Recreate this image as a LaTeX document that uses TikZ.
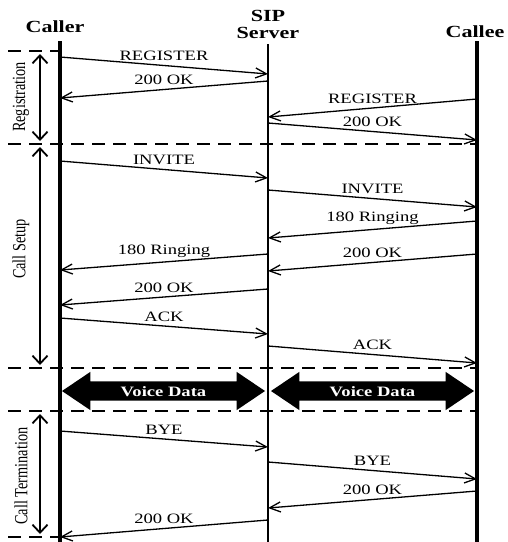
\documentclass[tikz,border=0pt]{standalone}
\usepackage{fontspec}
\usepackage{graphicx}
\setmainfont{Liberation Serif}
\newfontfamily\wideserif[FakeStretch=1.3]{Liberation Serif}
\usetikzlibrary{arrows.meta, shapes.arrows, calc}

\begin{document}
\begin{tikzpicture}[
  x=1pt, y=-1pt,
  actor/.style={font=\wideserif\bfseries\fontsize{17}{17}\selectfont, align=center, inner sep=0pt},
  life/.style={line width=3.5pt},
  msg/.style={-{Straight Barb[length=11pt, width=10pt]}, line width=1.3pt},
  lbl/.style={font=\wideserif\fontsize{14.3}{16}\selectfont, anchor=south, yshift=4pt, inner sep=0pt},
  phase/.style={{Straight Barb[length=8pt, width=15pt]}-{Straight Barb[length=8pt, width=15pt]}, line width=1.8pt},
  phaselbl/.style={rotate=90, font=\fontsize{14.3}{16}\selectfont, inner sep=0pt},
  sep/.style={dash pattern=on 13pt off 8pt, line width=1.5pt},
  voice/.style={double arrow, fill=black, text=white, font=\wideserif\bfseries\fontsize{14.3}{16}\selectfont,
    minimum height=203pt, minimum width=38pt, double arrow head extend=9.5pt, double arrow tip angle=68,
    inner ysep=4.5pt, text height=10pt, text depth=0pt}
]
  \useasboundingbox (0,0) rectangle (508,542);

  % actors
  \node[actor, anchor=base] (caller) at (55,32) {Caller};
  \node[actor, anchor=north] (server) at (268,10) {SIP\\Server};
  \node[actor, anchor=base] (callee) at (475,37) {Callee};

  % lifelines
  \coordinate (cr) at (60,41);
  \coordinate (sv) at (268,44);
  \coordinate (ce) at (477,41);
  \draw[life] (cr) -- (cr |- 0,542);
  \draw[line width=2pt] (sv) -- (sv |- 0,542);
  \draw[life] (ce) -- (ce |- 0,542);

  % phase separators
  \draw[sep] (8,51) -- (60,51);
  \draw[sep] (8,144) -- (477,144);
  \draw[sep] (8,368) -- (477,368);
  \draw[sep] (8,411) -- (477,411);
  \draw[sep] (8,537) -- (60,537);

  % phases
  \draw[phase] (40,54) -- (40,141);
  \draw[phase] (40,147) -- (40,365);
  \draw[phase] (40,414) -- (40,534);
  \node[phaselbl] (reg) at (21,97) {\scalebox{1}[1.3]{Registration}};
  \node[phaselbl] (setup) at (21,249) {\scalebox{1}[1.3]{Call Setup}};
  \node[phaselbl] (term) at (21,476) {\scalebox{1}[1.3]{Call Termination}};

  % registration
  \draw[msg] (cr |- 0,57) -- node[lbl] {REGISTER} (sv |- 0,74);
  \draw[msg] (sv |- 0,81) -- node[lbl] {200 OK} (cr |- 0,98);
  \draw[msg] (ce |- 0,99) -- node[lbl] {REGISTER} (sv |- 0,117);
  \draw[msg] (sv |- 0,123) -- node[lbl] {200 OK} (ce |- 0,140);

  % call setup
  \draw[msg] (cr |- 0,161) -- node[lbl] {INVITE} (sv |- 0,178);
  \draw[msg] (sv |- 0,190) -- node[lbl] {INVITE} (ce |- 0,207);
  \draw[msg] (ce |- 0,221) -- node[lbl] {180 Ringing} (sv |- 0,238);
  \draw[msg] (sv |- 0,254) -- node[lbl] {180 Ringing} (cr |- 0,270);
  \draw[msg] (ce |- 0,254) -- node[lbl] {200 OK} (sv |- 0,271);
  \draw[msg] (sv |- 0,289) -- node[lbl] {200 OK} (cr |- 0,305);
  \draw[msg] (cr |- 0,318) -- node[lbl] {ACK} (sv |- 0,334);
  \draw[msg] (sv |- 0,346) -- node[lbl] {ACK} (ce |- 0,363);

  % voice data
  \node[voice] (vd1) at (163.5,391) {Voice Data};
  \node[voice] (vd2) at (372.5,391) {Voice Data};

  % call termination
  \draw[msg] (cr |- 0,431) -- node[lbl] {BYE} (sv |- 0,447);
  \draw[msg] (sv |- 0,462) -- node[lbl] {BYE} (ce |- 0,479);
  \draw[msg] (ce |- 0,491) -- node[lbl] {200 OK} (sv |- 0,508);
  \draw[msg] (sv |- 0,520) -- node[lbl] {200 OK} (cr |- 0,537);
\end{tikzpicture}
\end{document}
